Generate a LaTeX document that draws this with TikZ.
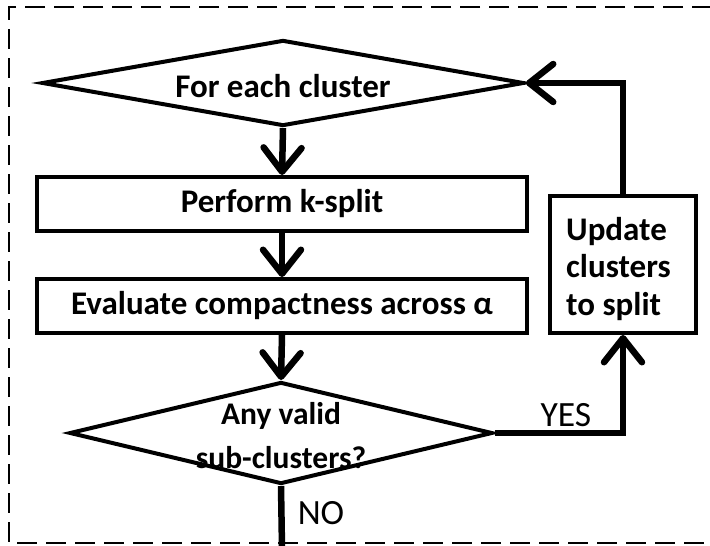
\documentclass[tikz,border=0pt]{standalone}
\usepackage{fontspec}
\setmainfont{Carlito}
\usetikzlibrary{shapes.geometric,arrows.meta}
\begin{document}
\begin{tikzpicture}[x=1pt,y=-1pt,
  shapeline/.style={draw=black,line width=4pt},
  procbox/.style={shapeline,rectangle,minimum width=490pt,minimum height=54pt,inner sep=0pt,
    font=\bfseries\fontsize{33}{38}\selectfont},
  decision/.style={shapeline,diamond,inner sep=0pt},
  dtext/.style={font=\bfseries\fontsize{33}{38}\selectfont,align=center},
  dtexttwo/.style={font=\bfseries\fontsize{31.5}{44}\selectfont,align=center},
  updbox/.style={shapeline,rectangle,minimum width=146pt,minimum height=137pt,inner sep=0pt},
  updtext/.style={align=left,anchor=west,inner sep=0pt,font=\bfseries\fontsize{33}{37.5}\selectfont},
  flow/.style={line width=6.5pt,-{Straight Barb[length=24pt,width=38pt,line width=6.5pt,round]}},
  plainline/.style={line width=6.5pt},
  answer/.style={font=\fontsize{35.5}{40}\selectfont},
  frame/.style={line width=2.2pt,dash pattern=on 20pt off 9pt}
]
\useasboundingbox (0,0) rectangle (710,546);
\draw[frame] (712,7) -- (9,7) -- (9,543) -- (712,543);

\node[decision,minimum width=482pt,minimum height=86pt] (d1) at (283,83) {};
\node[dtext] (t1) at ([yshift=-3pt]d1.center) {For each cluster};
\node[procbox] (b1) at (282,204) {Perform k-split};
\node[procbox] (b2) at (282,306) {Evaluate compactness across α};
\node[decision,minimum width=423pt,minimum height=102pt] (d2) at (281,433) {};
\node[dtexttwo] (t2) at ([yshift=-3pt]d2.center) {Any valid\\sub-clusters?};
\node[updbox] (upd) at (623,264.5) {};
\node[updtext] (ut) at (566,269) {Update\\clusters\\to split};
\coordinate (out) at (282,548);

\draw[flow] (d1.south) -- (b1.north);
\draw[flow] (b1.south) -- (b2.north);
\draw[flow] (b2.south) -- (d2.north);
\draw[flow] (d2.east) -| (upd.south);
\draw[flow] (upd.north) |- (d1.east);
\draw[plainline] (d2.south) -- (out);

\node[answer] (yes) at (566,415) {YES};
\node[answer] (no) at (321,513) {NO};
\end{tikzpicture}
\end{document}
